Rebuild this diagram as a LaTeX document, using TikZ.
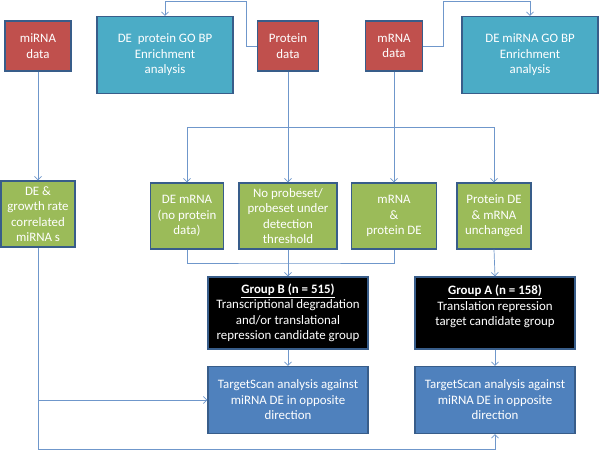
\documentclass[tikz,border=0pt]{standalone}
\usepackage{fontspec}
\setmainfont{Carlito}
\usetikzlibrary{arrows.meta}
\definecolor{datared}{HTML}{C0504D}
\definecolor{gogreen}{HTML}{9BBB59}
\definecolor{goteal}{HTML}{4BACC6}
\definecolor{tsblue}{HTML}{4F81BD}
\definecolor{boxline}{HTML}{385D8A}
\definecolor{linkblue}{HTML}{6F97CB}
\newlength\unitpx
\setlength\unitpx{0.03cm}
\begin{document}
\begin{tikzpicture}[x=\unitpx,y=-\unitpx,
  every node/.style={font=\fontsize{11}{13.2}\selectfont,text=white,align=center,inner sep=0pt},
  box/.style={draw=boxline,line width=1.1pt,minimum height=#1\unitpx},
  data/.style={box=50,fill=datared},
  gobox/.style={box=77,fill=goteal,minimum width=136\unitpx},
  sub/.style={box=66,fill=gogreen},
  group/.style={box=72,fill=black,minimum width=160\unitpx},
  scan/.style={box=67,fill=tsblue,minimum width=160\unitpx},
  link/.style={draw=linkblue,line width=0.6pt},
  arr/.style={link,-{Straight Barb[length=3pt,width=6pt]}}]
\useasboundingbox (0,0) rectangle (600,451);

\node[data,minimum width=66\unitpx] (mirna) at (38,46) {miRNA\\data};
\node[gobox] (goprot) at (165,55) {DE\ \ protein GO BP\\Enrichment\\analysis};
\node[data,minimum width=61\unitpx] (prot) at (288,46) {Protein\\data};
\node[data,minimum width=57\unitpx] (mrna) at (394,46) {mRNA\\data};
\node[gobox] (gomir) at (530,55) {DE miRNA GO BP\\Enrichment\\analysis};

\node[sub,minimum width=74\unitpx] (corr) at (38,214) {DE \&\\growth rate\\correlated\\miRNA s};
\node[sub,minimum width=73\unitpx] (demrna) at (187,216) {DE mRNA\\(no protein\\data)};
\node[sub,minimum width=98\unitpx] (noprobe) at (288,216) {No probeset/\\probeset under\\detection\\threshold};
\node[sub,minimum width=85\unitpx] (both) at (394,216) {mRNA\\\&\\protein DE};
\node[sub,minimum width=74\unitpx] (unch) at (494,216) {Protein DE\\\& mRNA\\unchanged};

\node[group] (grpB) at (288,313) {\underline{\textbf{Group B (n = 515)}}\\Transcriptional degradation\\and/or translational\\repression candidate group};
\node[group] (grpA) at (495,313) {\underline{\textbf{Group A (n = 158)}}\\Translation repression\\target candidate group\\\mbox{}};

\node[scan] (tsB) at (288,400) {TargetScan analysis against\\miRNA DE in opposite\\direction};
\node[scan] (tsA) at (495,400) {TargetScan analysis against\\miRNA DE in opposite\\direction};

\coordinate (split) at (394,127);
\coordinate (merge) at (288,263);

\draw[arr] (prot.west) -- ++(-11,0) -- ++(0,-45) -| (goprot.north);
\draw[arr] (mrna.east) -- ++(20,0) -- ++(0,-45) -| (gomir.north);

\draw[arr] (mirna.south) -- (corr.north);
\draw[arr] (prot.south) -- (noprobe.north);
\draw[arr] (mrna.south) -- (both.north);
\draw[arr] (split) -| (demrna.north);
\draw[arr] (split) -| (unch.north);

\draw[link] (demrna.south) |- (merge) -| (both.south);
\draw[arr] (noprobe.south) -- (grpB.north);
\draw[arr] (unch.south) -- (grpA.north);

\draw[arr] (grpB.south) -- (tsB.north);
\draw[arr] (grpA.south) -- (tsA.north);

\draw[arr] (corr.south) -- (38,449) -| (tsA.south);
\draw[arr] (corr.south |- tsB.west) -- (tsB.west);
\end{tikzpicture}
\end{document}
